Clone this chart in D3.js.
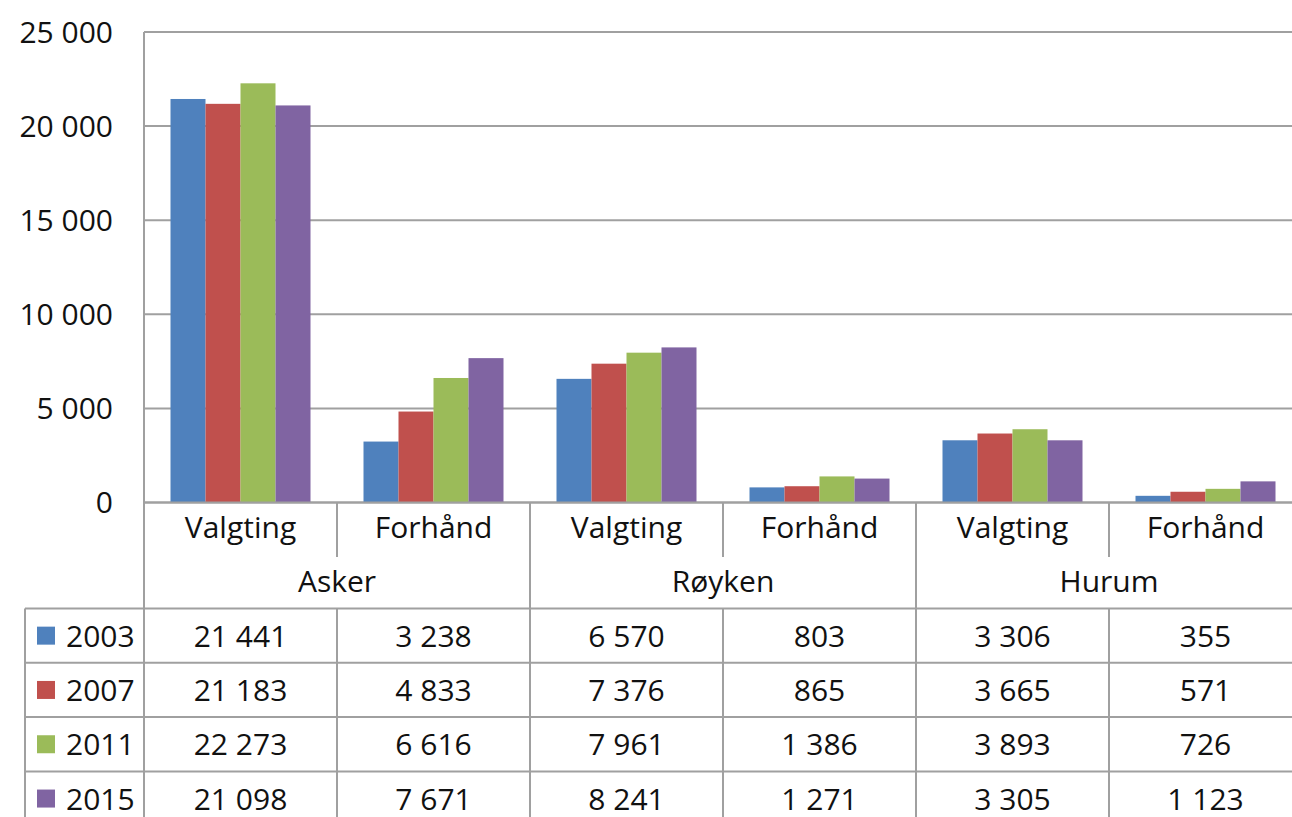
<!DOCTYPE html>
<html>
<head>
<meta charset="utf-8">
<script src="https://cdn.jsdelivr.net/npm/d3@7"></script>
<style>
  html, body { margin: 0; padding: 0; background: #fff; }
  svg { display: block; }
  text { font-family: "Open Sans", Lato, sans-serif; fill: #111; }
</style>
</head>
<body>
<svg id="chart" width="1292" height="817"></svg>
<script>
// ---- data ----
const groups = ["Asker", "Røyken", "Hurum"];
const types = ["Valgting", "Forhånd"];
const years = ["2003", "2007", "2011", "2015"];
const v2003 = [21441, 3238, 6570, 803, 3306, 355];
const v2007 = [21183, 4833, 7376, 865, 3665, 571];
const v2011 = [22273, 6616, 7961, 1386, 3893, 726];
const v2015 = [21098, 7671, 8241, 1271, 3305, 1123];
const yTicks = [0, 5000, 10000, 15000, 20000, 25000];
const colors = ["#4F81BD", "#C0504D", "#9BBB59", "#8064A2"];

const series = [v2003, v2007, v2011, v2015];
const cells = [];
groups.forEach(g => types.forEach(t => cells.push(g + "|" + t)));

// ---- layout ----
const svg = d3.select("#chart");
const pLeft = 144, pRight = 1302, pTop = 32, pBottom = 502.5;
const gridColor = "#a0a0a0";
const fs = 30;

const fmt = d3.formatLocale({ decimal: ",", thousands: " ", grouping: [3], currency: ["", ""] }).format(",d");

const y = d3.scaleLinear().domain([0, 25000]).range([pBottom, pTop]);
const xCell = d3.scaleBand().domain(cells).range([pLeft, pRight]).padding(0);
const x0 = d3.scaleBand().domain(cells).range([pLeft, pRight]).paddingInner(0.2746).paddingOuter(0.1373);
const x1 = d3.scaleBand().domain(years).range([0, x0.bandwidth()]);
const xGroup = d3.scaleBand().domain(groups).range([pLeft, pRight]).padding(0);

// gridlines
svg.append("g").selectAll("line").data(yTicks).join("line")
  .attr("x1", pLeft).attr("x2", pRight)
  .attr("y1", d => y(d)).attr("y2", d => y(d))
  .attr("stroke", gridColor).attr("stroke-width", 2);

// y axis labels
svg.append("g").selectAll("text").data(yTicks).join("text")
  .attr("x", 113).attr("y", d => y(d) + 10.5)
  .attr("text-anchor", "end").attr("font-size", fs)
  .text(d => fmt(d));

// bars
const barG = svg.append("g");
series.forEach((vals, si) => {
  barG.append("g").selectAll("rect").data(vals).join("rect")
    .attr("x", (d, i) => x0(cells[i]) + x1(years[si]))
    .attr("width", x1.bandwidth())
    .attr("y", d => y(d))
    .attr("height", d => y(0) - y(d))
    .attr("fill", colors[si]);
});

// zero line on top
svg.append("line").attr("x1", pLeft).attr("x2", pRight)
  .attr("y1", y(0)).attr("y2", y(0)).attr("stroke", gridColor).attr("stroke-width", 2);

// table geometry
const tableTop = 608.5, rowH = 54.3, tableLeft = 25;

const lines = svg.append("g").attr("stroke", gridColor).attr("stroke-width", 2);
lines.append("line").attr("x1", pLeft).attr("x2", pLeft).attr("y1", pTop).attr("y2", 817);
groups.forEach((g, i) => {
  if (i === 0) return;
  lines.append("line").attr("x1", xGroup(g)).attr("x2", xGroup(g)).attr("y1", pBottom).attr("y2", 817);
});
lines.append("line").attr("x1", pRight).attr("x2", pRight).attr("y1", pBottom).attr("y2", 817);
cells.forEach((c, i) => {
  if (i % 2 === 1) {
    const xx = xCell(c);
    lines.append("line").attr("x1", xx).attr("x2", xx).attr("y1", pBottom).attr("y2", 557);
    lines.append("line").attr("x1", xx).attr("x2", xx).attr("y1", tableTop).attr("y2", 817);
  }
});
d3.range(5).forEach(r => {
  const yy = tableTop + r * rowH;
  lines.append("line").attr("x1", tableLeft).attr("x2", pRight).attr("y1", yy).attr("y2", yy);
});
lines.append("line").attr("x1", tableLeft).attr("x2", tableLeft).attr("y1", tableTop).attr("y2", 817);

// category labels
svg.append("g").selectAll("text").data(cells).join("text")
  .attr("x", d => xCell(d) + xCell.bandwidth() / 2)
  .attr("y", 538)
  .attr("text-anchor", "middle").attr("font-size", fs)
  .text(d => d.split("|")[1]);

svg.append("g").selectAll("text").data(groups).join("text")
  .attr("x", d => xGroup(d) + xGroup.bandwidth() / 2)
  .attr("y", 592)
  .attr("text-anchor", "middle").attr("font-size", fs)
  .text(d => d);

// table rows
series.forEach((vals, si) => {
  const cy = tableTop + si * rowH + rowH / 2;
  const baseY = cy + 11;
  svg.append("rect").attr("x", 37).attr("y", cy - 9).attr("width", 18).attr("height", 18).attr("fill", colors[si]);
  svg.append("text").attr("x", 66).attr("y", baseY).attr("font-size", fs).text(years[si]);
  svg.append("g").selectAll("text").data(vals).join("text")
    .attr("x", (d, i) => xCell(cells[i]) + xCell.bandwidth() / 2)
    .attr("y", baseY)
    .attr("text-anchor", "middle").attr("font-size", fs)
    .text(d => fmt(d));
});
</script>
</body>
</html>
